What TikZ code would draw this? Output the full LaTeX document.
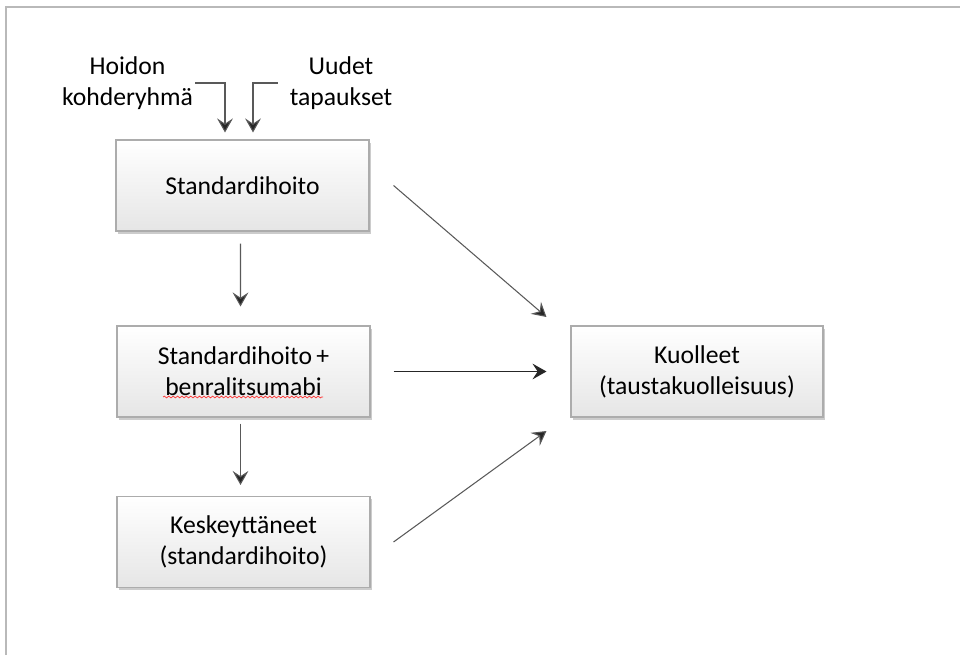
\documentclass[tikz,border=0pt]{standalone}
\usepackage{fontspec}
\setmainfont{Carlito}
\usepackage{tikz}
\usetikzlibrary{arrows.meta,shadows,decorations.pathmorphing}

\tikzset{
  box/.style={draw=gray!65, line width=0.6pt, top color=white, bottom color=gray!20,
    minimum width=5.06cm, minimum height=1.82cm, align=center,
    drop shadow={shadow xshift=1.2pt, shadow yshift=-1.6pt, opacity=0.4}},
  arr/.style={-{Stealth[length=8pt,width=9pt,inset=3pt,fill=black!85]}, line width=0.6pt, draw=black!65},
  lbl/.style={align=center, inner sep=1pt}
}

\begin{document}
\begin{tikzpicture}[font=\fontsize{14.6}{17.6}\selectfont]
    \useasboundingbox (0,0) rectangle (19.2,13.1);
    \draw[gray!55, line width=0.9pt] (0.12,0) -- (0.12,12.96) -- (19.2,12.96);
    % boxes
    \node[box] (std) at (4.85,9.39) {Standardihoito};
    \node[box] (benra) at (4.87,5.67) {Standardihoito\,+\\benralitsumabi};
    \node[box] (kesk) at (4.87,2.26) {Keskeyttäneet\\(standardihoito)};
    \node[box, minimum width=5.04cm] (kuol) at (13.94,5.67) {Kuolleet\\(taustakuolleisuus)};
    % inflows
    \node[lbl] (hoidon) at (2.55,11.44) {Hoidon\\kohderyhmä};
    \node[lbl] (uudet) at (6.82,11.44) {Uudet\\tapaukset};
    \draw[arr, shorten >=0.14cm] (hoidon.east) -| ([xshift=-0.35cm]std.north);
    \draw[arr, shorten >=0.14cm] ([xshift=-0.2cm]uudet.west) -| ([xshift=0.21cm]std.north);
    % flows down
    \draw[arr, shorten <=0.24cm, shorten >=0.38cm] ([xshift=-0.04cm]std.south) -- ([xshift=-0.06cm]benra.north);
    \draw[arr, shorten <=0.12cm, shorten >=0.22cm] ([xshift=-0.06cm]benra.south) -- ([xshift=-0.06cm]kesk.north);
    % deaths
    \draw[arr] ([xshift=0.48cm]std.east) -- ([xshift=-0.48cm,yshift=1.09cm]kuol.west);
    \draw[arr, draw=black!85] ([xshift=0.46cm]benra.east) -- ([xshift=-0.48cm]kuol.west);
    \draw[arr] ([xshift=0.46cm]kesk.east) -- ([xshift=-0.48cm,yshift=-1.19cm]kuol.west);
    % spelling mark
    \draw[red!80, line width=0.4pt, decorate, decoration={snake, amplitude=0.5pt, segment length=2.5pt}]
      (3.26,5.16) -- (6.46,5.16);
\end{tikzpicture}
\end{document}
